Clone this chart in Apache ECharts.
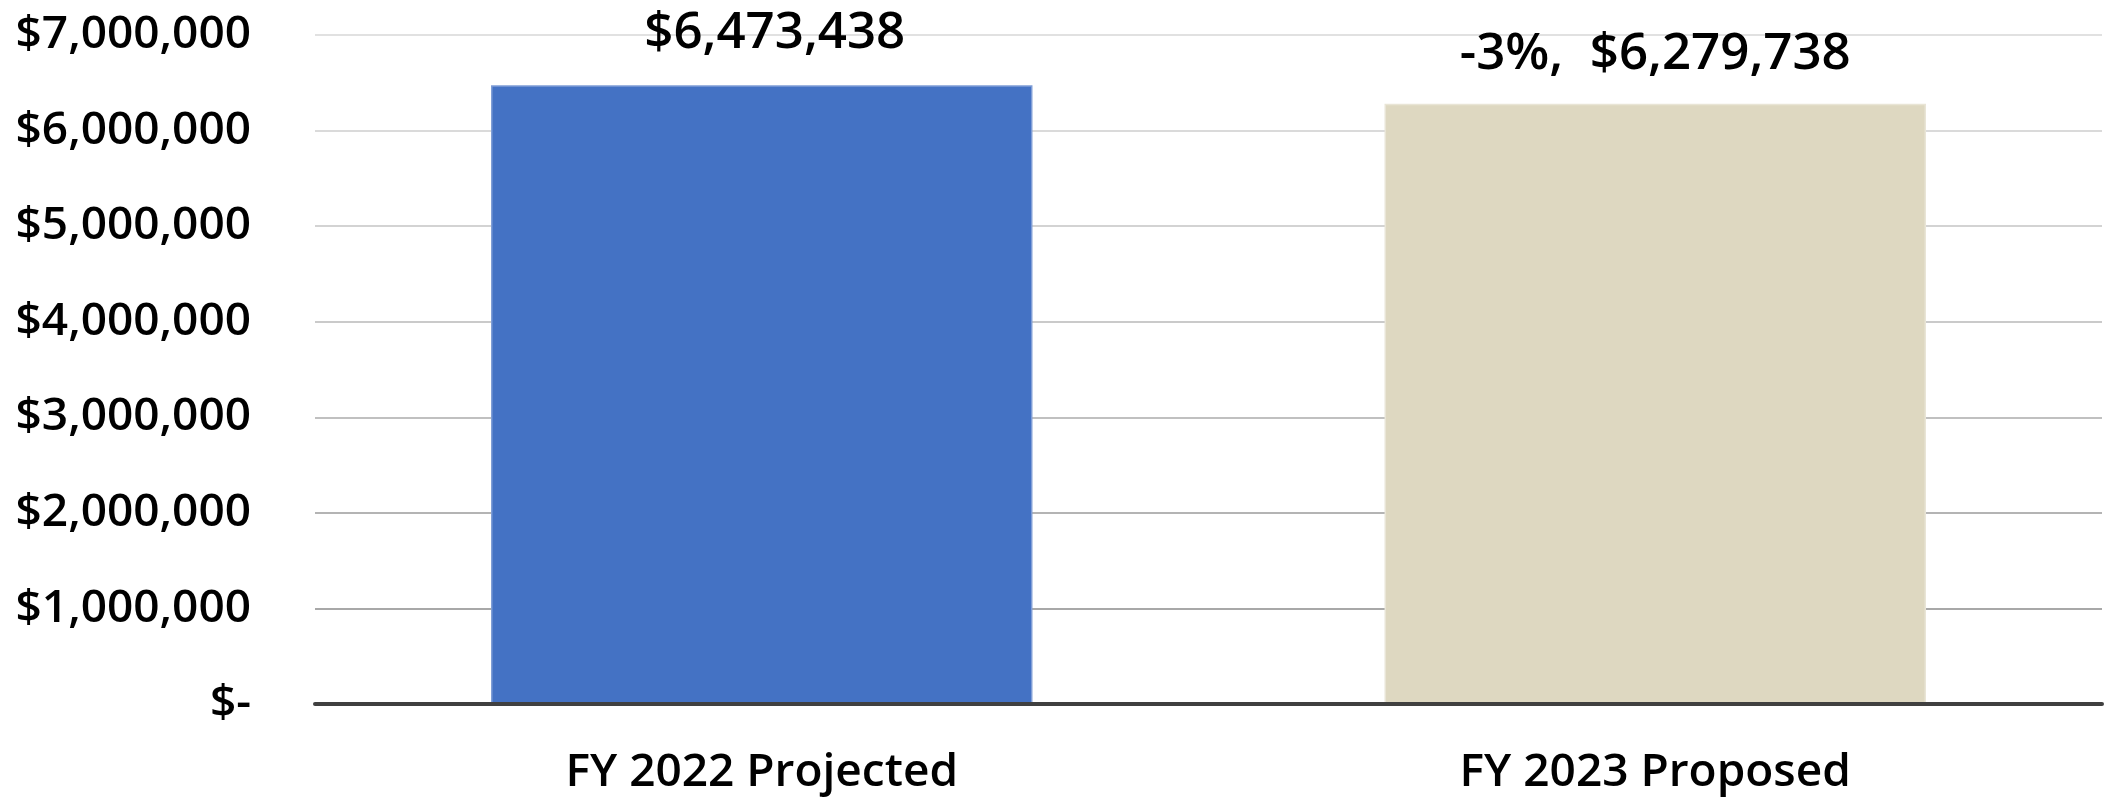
<!DOCTYPE html>
<html>
<head>
<meta charset="utf-8">
<script src="https://cdn.jsdelivr.net/npm/echarts@6/dist/echarts.min.js"></script>
<style>
  html, body { margin: 0; padding: 0; background: #ffffff; }
  #chart { width: 2113px; height: 802px; }
</style>
</head>
<body>
<div id="chart"></div>
<script>
// Budget comparison: projected vs proposed
const categories = ['FY 2022 Projected', 'FY 2023 Proposed'];
const amounts = [6473438, 6279738];
const barColors = ['#4472C4', '#DED8C1'];
const barBorders = ['#7F9DD6', '#E9E5D6'];
const yTicks = [0, 1000000, 2000000, 3000000, 4000000, 5000000, 6000000, 7000000];

const FONT = '"Open Sans", "Noto Sans", sans-serif';

function money(v) {
  if (v === 0) return '$-';
  return '$' + Math.round(v).toLocaleString('en-US');
}

function labelFor(i) {
  if (i === 0) return money(amounts[0]);
  const pct = Math.round((amounts[i] - amounts[i - 1]) / amounts[i - 1] * 100);
  return pct + '%,  ' + money(amounts[i]);
}

// the first label sits a little right of its bar's centre
const labelOffsets = [[13, -2], [0, 0]];

const chart = echarts.init(document.getElementById('chart'), null, { renderer: 'canvas' });

chart.setOption({
  animation: false,
  backgroundColor: '#ffffff',
  grid: { left: 315, right: 11, top: 35, bottom: 98, containLabel: false },
  xAxis: {
    type: 'category',
    data: categories,
    axisTick: { show: false },
    axisLine: { show: true, lineStyle: { color: '#404040', width: 4 } },
    axisLabel: {
      color: '#000000', fontFamily: FONT, fontWeight: 600, fontSize: 46, margin: 46
    },
    z: 5
  },
  yAxis: {
    type: 'value',
    min: yTicks[0],
    max: yTicks[yTicks.length - 1],
    interval: yTicks[1] - yTicks[0],
    axisLine: { show: false },
    axisTick: { show: false },
    axisLabel: {
      color: '#000000', fontFamily: FONT, fontWeight: 600, fontSize: 46, margin: 64,
      formatter: money
    },
    splitLine: {
      show: true,
      lineStyle: {
        width: 2,
        color: ['#a0a0a0', '#a8a8a8', '#b4b4b4', '#c0c0c0', '#cacaca', '#d3d3d3', '#dadada', '#e1e1e1']
      }
    }
  },
  series: [{
    type: 'bar',
    barCategoryGap: '39.4%',
    data: amounts.map((v, i) => ({
      value: v,
      itemStyle: { color: barColors[i], borderColor: barBorders[i], borderWidth: 1.5 },
      label: { formatter: labelFor(i), offset: labelOffsets[i] }
    })),
    label: {
      show: true,
      position: 'top',
      distance: 24,
      color: '#000000',
      fontFamily: FONT,
      fontWeight: 600,
      fontSize: 51
    },
    z: 2
  }]
});
</script>
</body>
</html>
